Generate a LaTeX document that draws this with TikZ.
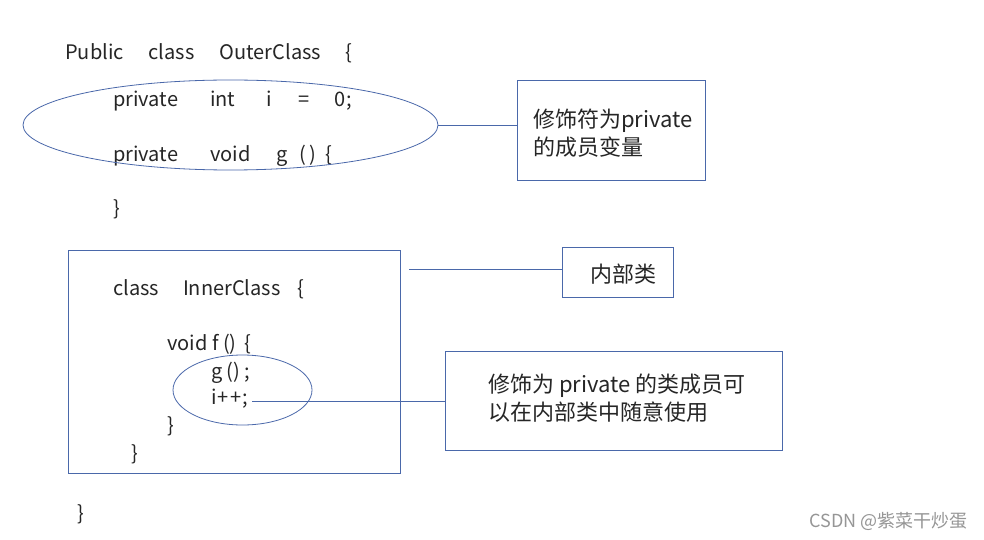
\documentclass[tikz,border=0pt]{standalone}
\usepackage{fontspec}
\setmainfont{Noto Sans CJK SC}
\usetikzlibrary{shapes.geometric}
\definecolor{lineblue}{RGB}{74,104,170}
\definecolor{wm}{RGB}{150,150,150}
\tikzset{
  code/.style={anchor=base west, inner sep=0pt, font=\fontsize{20}{24}\selectfont, text=black!85},
  note/.style={anchor=west, inner sep=0pt, align=left, font=\fontsize{22}{28}\selectfont, text=black!85},
  frame/.style={draw=lineblue, line width=0.8pt},
  link/.style={draw=lineblue, line width=0.8pt},
}
\newcommand{\gap}[1]{\hspace{#1pt}}
\begin{document}
\begin{tikzpicture}[x=1pt,y=-1pt]
\useasboundingbox[fill=white] (0,0) rectangle (984,540);
% outer class code
\node[code] (l1) at (65,60) {Public\gap{25}class\gap{25}OuterClass\gap{24}\{};
\node[code] (l2) at (113,107) {private\gap{32}int\gap{31}i\gap{27}=\gap{25}0;};
\node[code] (l3) at (113,162) {private\gap{32}void\gap{26}g\gap{12}(\gap{3})\gap{9}\{};
\node[code] (l4) at (113,215) {\}};
% ellipse 1
\node[frame, ellipse, minimum width=415, minimum height=90, inner sep=0pt] (e1) at (230.5,125) {};
% box 1
\node[frame, minimum width=188, minimum height=100, inner sep=0pt] (b1) at (611,130) {};
\node[note] (t1) at (533,133) {修饰符为private\\的成员变量};
\draw[link] (e1.east) -- (b1.west |- e1.east);
% inner class box
\node[frame, minimum width=332, minimum height=223, inner sep=0pt] (ib) at (234,361.5) {};
\node[code] (m1) at (113,295) {class\gap{24}InnerClass\gap{17}\{};
\node[code] (m2) at (167,350) {void f ()\gap{8}\{};
\node[code] (m3) at (211,378) {g () ;};
\node[code] (m4) at (211,404) {i\gap{1}+\gap{2}+\gap{1};};
\node[code] (m5) at (167,432) {\}};
\node[code] (m6) at (131,460) {\}};
% ellipse 2
\node[frame, ellipse, minimum width=139, minimum height=70, inner sep=0pt] (e2) at (242.5,390) {};
% box 2
\node[frame, minimum width=111, minimum height=50, inner sep=0pt] (b2) at (617.5,272) {};
\node[note] (t2) at (590,274) {内部类};
\coordinate (c2) at (409,269);
\draw[link] (c2) -- (b2.west |- c2);
% box 3
\node[frame, minimum width=337, minimum height=99, inner sep=0pt] (b3) at (613.5,400.5) {};
\node[note] (t3) at (488,398) {修饰为 private 的类成员可\\以在内部类中随意使用};
\coordinate (c3) at (252,401);
\draw[link] (c3) -- (b3.west |- c3);
% closing brace
\node[code] (l5) at (77,520) {\}};
% watermark
\node[anchor=base east, inner sep=0pt, text=wm, font=\fontsize{18}{20}\selectfont] (wm) at (968,527) {CSDN @紫菜干炒蛋};
\end{tikzpicture}
\end{document}
